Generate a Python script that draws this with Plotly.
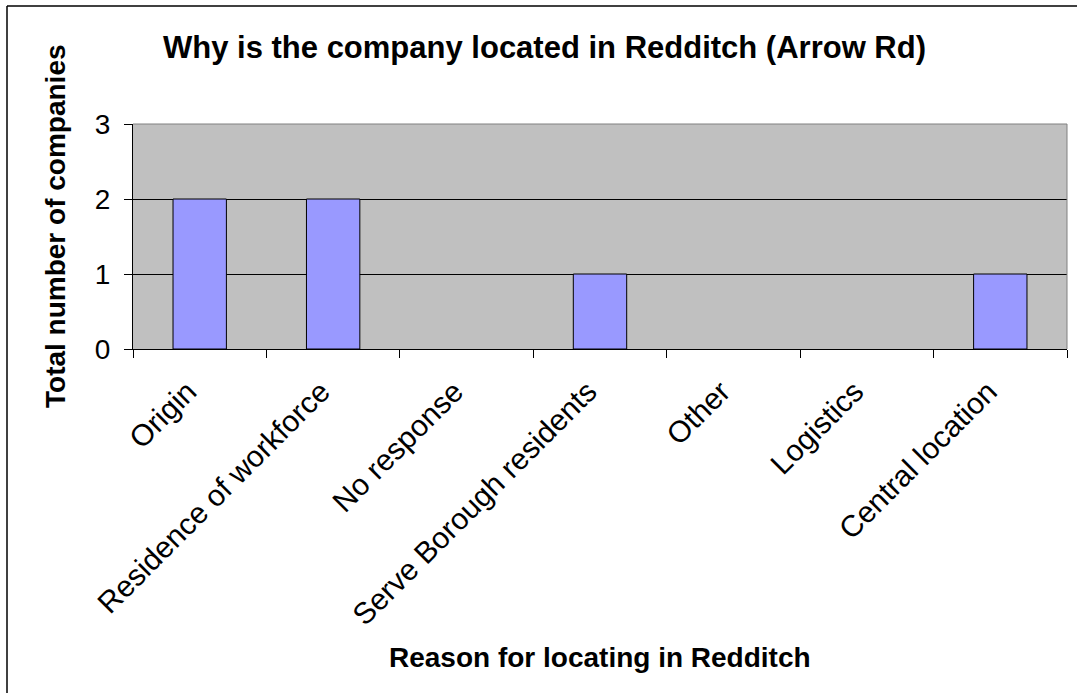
import plotly.graph_objects as go

# Survey results: reasons companies gave for locating on Arrow Rd, Redditch
reasons = [
    "Origin",
    "Residence of workforce",
    "No response",
    "Serve Borough residents",
    "Other",
    "Logistics",
    "Central location",
]
companies = [2, 2, 0, 1, 0, 0, 1]
y_ticks = [0, 1, 2, 3]

W, H = 1077, 693
L, R, T, B = 133, 10, 124, 344
PW, PH = W - L - R, H - T - B


def px_x(px):
    return (px - L) / PW


def px_y(py):
    return (H - B - py) / PH


FONT = "Liberation Sans, Arial, sans-serif"

# empty categories get no outline so no stray line sits on the axis
outline_widths = [1 if v > 0 else 0 for v in companies]

fig = go.Figure(
    go.Bar(
        x=reasons,
        y=companies,
        marker=dict(color="#9999FF", line=dict(color="#000000", width=outline_widths)),
        hoverinfo="x+y",
    )
)

fig.update_layout(
    width=W,
    height=H,
    margin=dict(l=L, r=R, t=T, b=B, pad=0),
    paper_bgcolor="#FFFFFF",
    plot_bgcolor="#C0C0C0",
    bargap=0.6,
    showlegend=False,
    font=dict(family=FONT, color="#000000"),
    xaxis=dict(
        type="category",
        tickangle=-45,
        tickfont=dict(size=30, family=FONT, color="#000000"),
        ticks="outside",
        tickson="boundaries",
        ticklen=8,
        tickcolor="#000000",
        ticklabelstandoff=12,
        ticklabelshift=-12,
        showline=True,
        linecolor="#000000",
        linewidth=1,
        showgrid=False,
        zeroline=False,
        fixedrange=True,
    ),
    yaxis=dict(
        range=[0, 3],
        tickvals=y_ticks,
        ticktext=[str(v) for v in y_ticks],
        tickfont=dict(size=28, family=FONT, color="#000000"),
        ticks="outside",
        ticklen=8,
        tickcolor="#000000",
        ticklabelstandoff=8,
        showline=True,
        linecolor="#000000",
        linewidth=1,
        showgrid=True,
        gridcolor="#000000",
        gridwidth=1,
        zeroline=False,
        fixedrange=True,
    ),
    shapes=[
        # plot area frame (top and right edges)
        dict(type="line", xref="paper", yref="paper", x0=0, x1=1, y0=1, y1=1,
             line=dict(color="#808080", width=1), layer="above"),
        dict(type="line", xref="paper", yref="paper", x0=1, x1=1, y0=0, y1=1,
             line=dict(color="#808080", width=1), layer="above"),
        # chart border (left and top)
        dict(type="line", xref="paper", yref="paper",
             x0=px_x(7), x1=px_x(7), y0=px_y(6), y1=px_y(H + 5),
             line=dict(color="#000000", width=1.5)),
        dict(type="line", xref="paper", yref="paper",
             x0=px_x(7), x1=px_x(W + 5), y0=px_y(6), y1=px_y(6),
             line=dict(color="#000000", width=1.5)),
    ],
    annotations=[
        dict(text="<b>Why is the company located in Redditch (Arrow Rd)</b>",
             xref="paper", yref="paper", x=px_x(161), y=px_y(47),
             xanchor="left", yanchor="middle", showarrow=False,
             font=dict(size=31, family=FONT, color="#000000")),
        dict(text="<b>Total number of companies</b>",
             xref="paper", yref="paper", x=px_x(55), y=px_y(226),
             xanchor="center", yanchor="middle", textangle=-90, showarrow=False,
             font=dict(size=28, family=FONT, color="#000000")),
        dict(text="<b>Reason for locating in Redditch</b>",
             xref="paper", yref="paper", x=px_x(600), y=px_y(658),
             xanchor="center", yanchor="middle", showarrow=False,
             font=dict(size=28, family=FONT, color="#000000")),
    ],
)

fig.write_html("out.html")
